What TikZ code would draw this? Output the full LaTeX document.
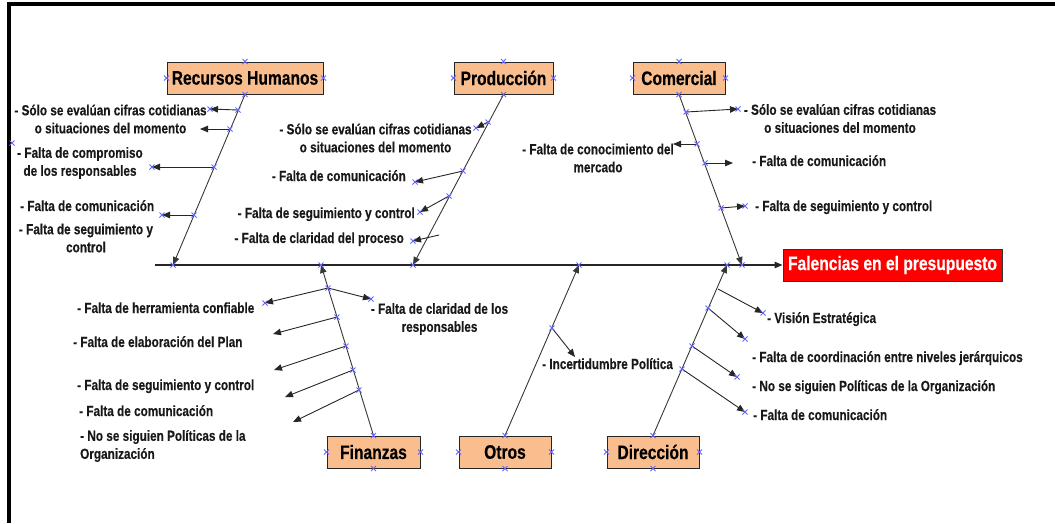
\documentclass[tikz,border=0pt]{standalone}
\usepackage{fontspec}
\setmainfont{Liberation Sans}[FakeStretch=0.8, BoldFeatures={FakeBold=0.35}]
\usetikzlibrary{arrows.meta}
\definecolor{catfill}{RGB}{250,190,142}
\definecolor{markblue}{RGB}{100,100,255}
\definecolor{boneline}{RGB}{55,55,55}
\begin{document}
\begin{tikzpicture}[x=1pt,y=-1pt,
  catbox/.style={draw=black!85, line width=1pt, fill=catfill, minimum height=32pt,
    inner sep=0pt, font=\fontsize{19.5}{22}\selectfont\bfseries},
  effectbox/.style={draw=black!80, line width=1pt, fill=red, minimum height=32pt,
    minimum width=219pt, inner sep=0pt, text=white, font=\fontsize{19.5}{22}\selectfont\bfseries},
  cause/.style={inner sep=0pt, font=\fontsize{14.7}{18}\selectfont\bfseries, text=black!90},
  tip/.style={-{Triangle[length=8pt,width=6.5pt]}},
  bone/.style={draw=boneline, line width=0.9pt, tip},
  twig/.style={draw=black!85, line width=0.9pt, tip},
  spine/.style={draw=black!85, line width=1.2pt, tip},
  xmark/.style={draw=markblue, line width=0.8pt}]
\useasboundingbox (0,0) rectangle (1055,523);

% frame
\draw[line width=3.5pt] (9,523) -- (9,4) -- (1055,4);

% effect and spine
\node[effectbox] (fal) at (892.5,265) {Falencias en el presupuesto};
\coordinate (spL) at (155,265);
\draw[spine] (spL) -- (fal.west);

% category boxes
\node[catbox, minimum width=156pt] (rh)  at (245,78)   {Recursos Humanos};
\node[catbox, minimum width=99pt]  (pro) at (503.5,78) {Producción};
\node[catbox, minimum width=92pt]  (com) at (679,78)   {Comercial};
\node[catbox, minimum width=93pt]  (fin) at (373.5,452) {Finanzas};
\node[catbox, minimum width=92pt]  (otr) at (505,452)  {Otros};
\node[catbox, minimum width=92pt]  (dir) at (653,452)  {Dirección};

% bone tips on the spine
\coordinate (rhT) at (173,265);
\coordinate (pT)  at (413,265);
\coordinate (cT)  at (742,265);
\coordinate (fT)  at (321,265);
\coordinate (oT)  at (579,265);
\coordinate (dT)  at (727,265);
\draw[bone] (rh.south)  -- (rhT);
\draw[bone] (pro.south) -- (pT);
\draw[bone] (com.south) -- (cT);
\draw[bone] (fin.north) -- (fT);
\draw[bone] (otr.north) -- (oT);
\draw[bone] (dir.north) -- (dT);

% Recursos Humanos causes
\coordinate (rh1) at (238,110); \coordinate (rh1e) at (210,109);
\coordinate (rh2) at (230,129); \coordinate (rh2e) at (200,129);
\coordinate (rh3) at (214,167); \coordinate (rh3e) at (152,167);
\coordinate (rh4) at (194,215); \coordinate (rh4e) at (162,215);
\foreach \a in {rh1,rh2,rh3,rh4} \draw[twig] (\a) -- (\a e);
\node[cause, align=center] (trh1) at (110.5,119) {- Sólo se evalúan cifras cotidianas\\o situaciones del momento};
\node[cause, align=center] (trh2) at (80,163) {- Falta de compromiso\\de los responsables};
\node[cause, anchor=base west] (trh3) at (20,211) {- Falta de comunicación};
\node[cause, align=center] (trh4) at (86,238) {- Falta de seguimiento y\\control};

% Producción causes
\coordinate (p1) at (488,122); \coordinate (p1e) at (476,128);
\coordinate (p2) at (463,171); \coordinate (p2e) at (415,182);
\coordinate (p3) at (449,196); \coordinate (p3e) at (420,212);
\coordinate (p4) at (439,235); \coordinate (p4e) at (413,241);
\foreach \a in {p1,p2,p3,p4} \draw[twig] (\a) -- (\a e);
\node[cause, align=center] (tp1) at (375.5,138) {- Sólo se evalúan cifras cotidianas\\o situaciones del momento};
\node[cause, anchor=base east] (tp2) at (406,181) {- Falta de comunicación};
\node[cause, anchor=base east] (tp3) at (415,218) {- Falta de seguimiento y control};
\node[cause, anchor=base east] (tp4) at (404,243) {- Falta de claridad del proceso};

% Comercial causes
\coordinate (c1) at (686,112); \coordinate (c1e) at (738,109);
\coordinate (c2) at (697,144); \coordinate (c2e) at (673,144);
\coordinate (c3) at (705,163); \coordinate (c3e) at (733,163);
\coordinate (c4) at (721,208); \coordinate (c4e) at (745,206);
\foreach \a in {c1,c2,c3,c4} \draw[twig] (\a) -- (\a e);
\node[cause, align=center] (tc1) at (840,118.5) {- Sólo se evalúan cifras cotidianas\\o situaciones del momento};
\node[cause, align=center] (tc2) at (598,158) {- Falta de conocimiento del\\mercado};
\node[cause, anchor=base west] (tc3) at (752,166) {- Falta de comunicación};
\node[cause, anchor=base west] (tc4) at (755,211) {- Falta de seguimiento y control};

% Finanzas causes
\coordinate (f1) at (328,288); \coordinate (f1e) at (265,303); \coordinate (f1r) at (371,299);
\coordinate (f2) at (337,317); \coordinate (f2e) at (273,334);
\coordinate (f3) at (346,346); \coordinate (f3e) at (274,370);
\coordinate (f4) at (353,370); \coordinate (f4e) at (285,397);
\coordinate (f5) at (359,390); \coordinate (f5e) at (293,422);
\foreach \a in {f1,f2,f3,f4,f5} \draw[twig] (\a) -- (\a e);
\draw[twig] (f1) -- (f1r);
\node[cause, anchor=base west] (tf1) at (77,313) {- Falta de herramienta confiable};
\node[cause, align=center] (tf2) at (439.5,319) {- Falta de claridad de los\\responsables};
\node[cause, anchor=base west] (tf3) at (73,347) {- Falta de elaboración del Plan};
\node[cause, anchor=base west] (tf4) at (77,390) {- Falta de seguimiento y control};
\node[cause, anchor=base west] (tf5) at (79,416) {- Falta de comunicación};
\node[cause, align=left, anchor=west] (tf6) at (80,446) {- No se siguien Políticas de la\\Organización};

% Otros causes
\coordinate (o1) at (552,328); \coordinate (o1e) at (575,357);
\draw[twig] (o1) -- (o1e);
\node[cause, anchor=base west] (to1) at (542,369) {- Incertidumbre Política};

% Dirección causes
\coordinate (d1) at (718,289); \coordinate (d1e) at (763,313);
\coordinate (d2) at (708,308); \coordinate (d2e) at (745,339);
\coordinate (d3) at (692,346); \coordinate (d3e) at (737,377);
\coordinate (d4) at (682,369); \coordinate (d4e) at (745,412);
\foreach \a in {d1,d2,d3,d4} \draw[twig] (\a) -- (\a e);
\node[cause, anchor=base west] (td1) at (767,323) {- Visión Estratégica};
\node[cause, anchor=base west] (td2) at (752,362) {- Falta de coordinación entre niveles jerárquicos};
\node[cause, anchor=base west] (td3) at (752,391) {- No se siguien Políticas de la Organización};
\node[cause, anchor=base west] (td4) at (753,420) {- Falta de comunicación};

% selection handles
\coordinate (stray) at (12,143);
\foreach \p in {rh.north,rh.west,rh.east,rh.south,
                pro.north,pro.west,pro.east,pro.south,
                com.north,com.west,com.east,com.south,
                fin.north,fin.west,fin.east,fin.south,
                otr.north,otr.west,otr.east,otr.south,
                dir.north,dir.west,dir.east,dir.south,
                rh1,rh1e,rh2,rh3,rh3e,rh4,rh4e,rhT,stray,
                p1,p1e,p2,p2e,p3,p3e,p4e,pT,
                c1,c1e,c2,c3,c4,c4e,cT,dT,
                fT,f1,f1e,f1r,f2,f3,f4,f5,
                oT,o1,
                d2,d3,d4,d1e,d2e,d3e,d4e}
  \draw[xmark] (\p) ++(-2.5,-2.5) -- ++(5,5) ++(0,-5) -- ++(-5,5);
\end{tikzpicture}
\end{document}
